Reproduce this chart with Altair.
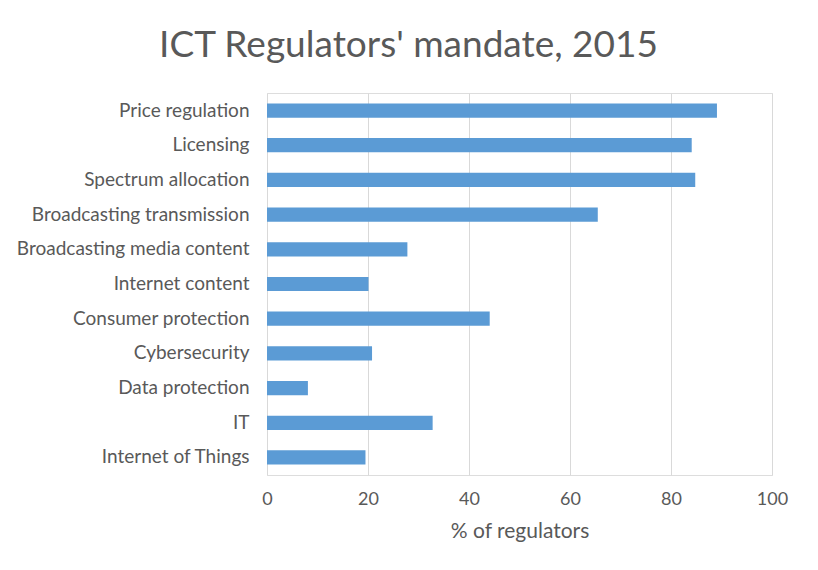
import altair as alt
import pandas as pd

categories = [
    "Price regulation ",
    "Licensing",
    "Spectrum allocation",
    "Broadcasting transmission",
    "Broadcasting media content",
    "Internet content",
    "Consumer protection",
    "Cybersecurity",
    "Data protection",
    "IT",
    "Internet of Things",
]
values = [89.1, 84.1, 84.8, 65.5, 27.8, 20.1, 44.1, 20.8, 8.1, 32.8, 19.5]
x_ticks = [0, 20, 40, 60, 80, 100]

df = pd.DataFrame({"mandate": categories, "pct": values})

FONT = "Lato"
TXT = "#595959"

chart = (
    alt.Chart(df)
    .mark_bar(color="#5B9BD5")
    .encode(
        x=alt.X(
            "pct:Q",
            scale=alt.Scale(domain=[0, 100], nice=False),
            axis=alt.Axis(
                values=x_ticks,
                title="% of regulators",
                grid=True,
                gridColor="#D9D9D9",
                gridWidth=1,
                domain=False,
                ticks=False,
                labelFlush=False,
                labelFontSize=18,
                labelFont=FONT,
                labelColor=TXT,
                labelPadding=15,
                titleFontSize=21,
                titleFont=FONT,
                titleColor=TXT,
                titleFontWeight="normal",
                titlePadding=12,
            ),
        ),
        y=alt.Y(
            "mandate:N",
            sort=categories,
            scale=alt.Scale(paddingInner=0.59, paddingOuter=0.3),
            axis=alt.Axis(
                title=None,
                domain=False,
                ticks=False,
                grid=False,
                labelFontSize=19,
                labelFont=FONT,
                labelColor=TXT,
                labelPadding=18,
                labelLimit=400,
            ),
        ),
    )
    .properties(
        width=505,
        height=382,
        title=alt.TitleParams(
            "ICT Regulators' mandate, 2015",
            font=FONT,
            fontSize=37,
            fontWeight="normal",
            color=TXT,
            anchor="middle",
            dx=-111,
            offset=28,
        ),
        autosize=alt.AutoSizeParams(type="none"),
        padding={"left": 259, "top": 85, "right": 38, "bottom": 86},
    )
    .configure_view(strokeWidth=0, stroke="transparent")
    .configure(background="white")
)

chart.save("out.html", embed_options={"renderer": "svg", "actions": False})
